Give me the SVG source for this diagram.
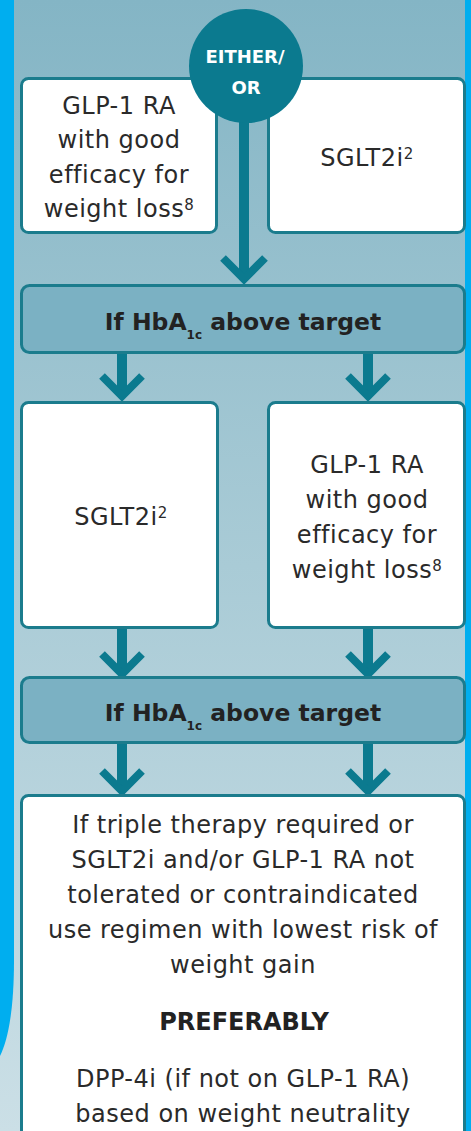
<svg xmlns="http://www.w3.org/2000/svg" width="471" height="1131" viewBox="0 0 471 1131">
<defs>
<linearGradient id="bg" x1="0" y1="0" x2="0" y2="1">
<stop offset="0" stop-color="#84b5c5"/>
<stop offset="0.5" stop-color="#a9cbd6"/>
<stop offset="1" stop-color="#cbdfe6"/>
</linearGradient>
<style>
.box{fill:#ffffff;stroke:#1b7c8d;stroke-width:3}
.bar{fill:#7bb1c3;stroke:#1b7c8d;stroke-width:3}
.t{font-family:"DejaVu Sans",sans-serif;font-size:24px;fill:#2a2a2a;text-anchor:middle;letter-spacing:0.5px}
.b{font-family:"DejaVu Sans",sans-serif;font-weight:bold;fill:#222222;text-anchor:middle}
.w{font-family:"DejaVu Sans",sans-serif;font-weight:bold;font-size:18px;fill:#ffffff;text-anchor:middle}
.sup{font-size:15px}
.shaft{stroke:#0b7a8f;stroke-width:10;fill:none}
.chev{stroke:#0b7a8f;stroke-width:8;fill:none;stroke-linejoin:miter}
</style>
</defs>
<rect x="0" y="0" width="471" height="1131" fill="url(#bg)"/>
<path d="M0,0 H14 V960 C14,1010 8,1040 0,1056 Z" fill="#00aeef"/>
<rect x="465" y="0" width="6" height="1131" fill="#00aeef"/>

<g id="glp1-top">
<rect class="box" x="21.5" y="78.5" width="195" height="154" rx="7"/>
<text class="t" x="119" y="114">GLP-1 RA</text>
<text class="t" x="119" y="148">with good</text>
<text class="t" x="119" y="183">efficacy for</text>
<text class="t" x="119" y="217">weight loss<tspan class="sup" dy="-7">8</tspan></text>
</g>
<g id="sglt2-top">
<rect class="box" x="268.5" y="78.5" width="196" height="154" rx="7"/>
<text class="t" x="367" y="166">SGLT2i<tspan class="sup" dy="-7">2</tspan></text>
</g>

<g id="connectors">
<line class="shaft" x1="244" y1="120" x2="244" y2="276"/>
<polyline class="chev" points="223,258 244,279 265,258"/>
<line class="shaft" x1="122" y1="353" x2="122" y2="393"/>
<polyline class="chev" points="102,376 122,396 142,376"/>
<line class="shaft" x1="368" y1="353" x2="368" y2="393"/>
<polyline class="chev" points="348,376 368,396 388,376"/>
<line class="shaft" x1="122" y1="628" x2="122" y2="671"/>
<polyline class="chev" points="102,654 122,674 142,654"/>
<line class="shaft" x1="368" y1="628" x2="368" y2="671"/>
<polyline class="chev" points="348,654 368,674 388,654"/>
<line class="shaft" x1="122" y1="743" x2="122" y2="788"/>
<polyline class="chev" points="102,771 122,791 142,771"/>
<line class="shaft" x1="368" y1="743" x2="368" y2="788"/>
<polyline class="chev" points="348,771 368,791 388,771"/>
</g>

<g id="either-or">
<circle cx="246" cy="66" r="57" fill="#0b7a8f"/>
<text class="w" x="245" y="63">EITHER/</text>
<text class="w" x="246" y="94">OR</text>
</g>

<g id="hba1c-1">
<rect class="bar" x="21.5" y="285.5" width="443" height="67" rx="8"/>
<text class="b" x="243" y="330" font-size="23.5">If HbA<tspan font-size="12" dy="9">1c</tspan><tspan dy="-9"> above target</tspan></text>
</g>

<g id="sglt2-mid">
<rect class="box" x="21.5" y="402.5" width="196" height="225" rx="7"/>
<text class="t" x="121" y="525">SGLT2i<tspan class="sup" dy="-7">2</tspan></text>
</g>
<g id="glp1-mid">
<rect class="box" x="268.5" y="402.5" width="196" height="225" rx="7"/>
<text class="t" x="367" y="473">GLP-1 RA</text>
<text class="t" x="367" y="508">with good</text>
<text class="t" x="367" y="543">efficacy for</text>
<text class="t" x="367" y="578">weight loss<tspan class="sup" dy="-7">8</tspan></text>
</g>

<g id="hba1c-2">
<rect class="bar" x="21.5" y="677.5" width="443" height="65" rx="8"/>
<text class="b" x="243" y="721" font-size="23.5">If HbA<tspan font-size="12" dy="9">1c</tspan><tspan dy="-9"> above target</tspan></text>
</g>

<g id="triple">
<rect class="box" x="21.5" y="795.5" width="443" height="360" rx="7"/>
<text class="t" x="243" y="833">If triple therapy required or</text>
<text class="t" x="243" y="868">SGLT2i and/or GLP-1 RA not</text>
<text class="t" x="243" y="903">tolerated or contraindicated</text>
<text class="t" x="243" y="938">use regimen with lowest risk of</text>
<text class="t" x="243" y="973">weight gain</text>
<text class="b" x="244" y="1030" font-size="24">PREFERABLY</text>
<text class="t" x="243" y="1087">DPP-4i (if not on GLP-1 RA)</text>
<text class="t" x="243" y="1122">based on weight neutrality</text>
</g>
</svg>
